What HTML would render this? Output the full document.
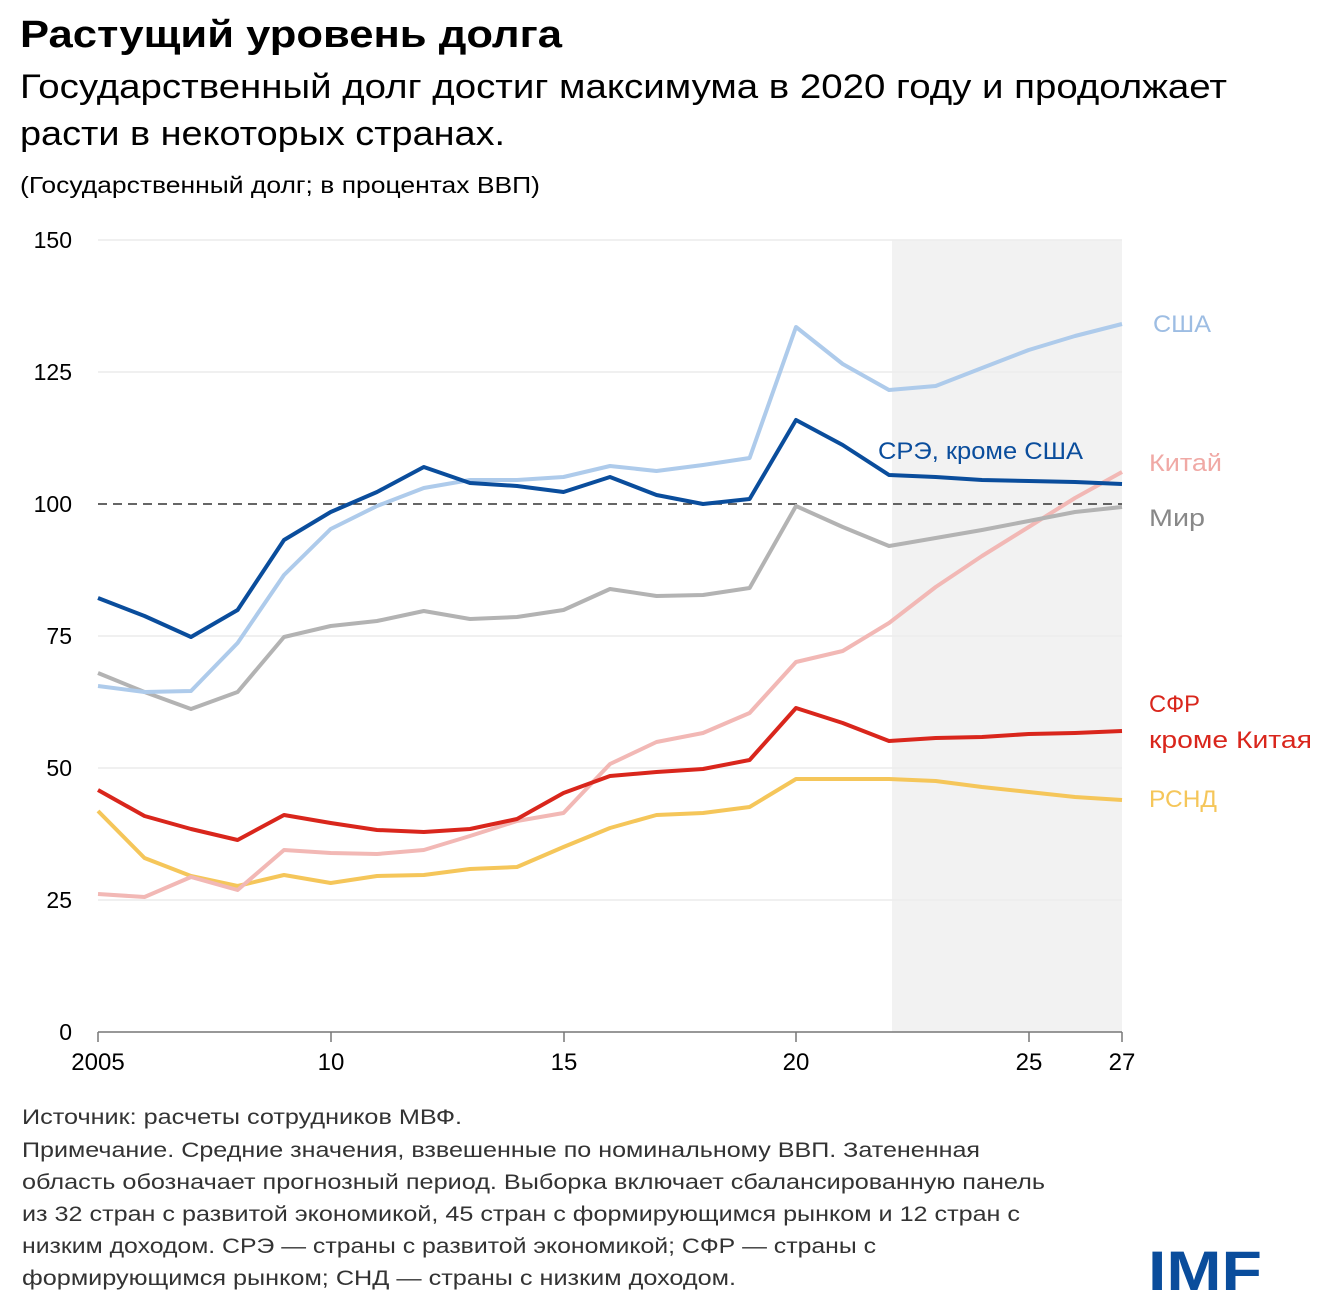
<!DOCTYPE html>
<html><head><meta charset="utf-8"><style>
body{margin:0;background:#fff;width:1320px;height:1309px;overflow:hidden;font-family:"Liberation Sans","DejaVu Sans",sans-serif}
</style></head><body>
<svg width="1320" height="1309" viewBox="0 0 1320 1309" xmlns="http://www.w3.org/2000/svg" font-family="Liberation Sans, DejaVu Sans, sans-serif">
<text x="20" y="47" font-size="38" font-weight="bold" fill="#000" textLength="542" lengthAdjust="spacingAndGlyphs">Растущий уровень долга</text>
<text x="20" y="98" font-size="34" fill="#000" textLength="1207" lengthAdjust="spacingAndGlyphs">Государственный долг достиг максимума в 2020 году и продолжает</text>
<text x="20" y="145" font-size="34" fill="#000" textLength="485" lengthAdjust="spacingAndGlyphs">расти в некоторых странах.</text>
<text x="20" y="193" font-size="23" fill="#000" textLength="520" lengthAdjust="spacingAndGlyphs">(Государственный долг; в процентах ВВП)</text>
<rect x="892" y="240" width="230" height="792" fill="#f2f2f2"/>
<g stroke="#ececec" stroke-width="1.5">
<line x1="98" y1="240" x2="1122" y2="240"/><line x1="98" y1="372" x2="1122" y2="372"/><line x1="98" y1="636" x2="1122" y2="636"/><line x1="98" y1="768" x2="1122" y2="768"/><line x1="98" y1="900" x2="1122" y2="900"/>
</g>
<line x1="98" y1="504" x2="1122" y2="504" stroke="#333" stroke-width="1.5" stroke-dasharray="9,6"/>
<g font-size="23" fill="#000" text-anchor="end">
<text x="72" y="248">150</text><text x="72" y="380">125</text><text x="72" y="512">100</text><text x="72" y="644">75</text><text x="72" y="776">50</text><text x="72" y="908">25</text><text x="72" y="1040">0</text>
</g>
<line x1="98" y1="1032" x2="1122" y2="1032" stroke="#777" stroke-width="1.5"/>
<g stroke="#777" stroke-width="1.5">
<line x1="98" y1="1032" x2="98" y2="1042"/><line x1="331" y1="1032" x2="331" y2="1042"/><line x1="564" y1="1032" x2="564" y2="1042"/><line x1="796" y1="1032" x2="796" y2="1042"/><line x1="1029" y1="1032" x2="1029" y2="1042"/><line x1="1122" y1="1032" x2="1122" y2="1042"/>
</g>
<g font-size="24" fill="#000" text-anchor="middle">
<text x="98" y="1070">2005</text><text x="331" y="1070">10</text><text x="564" y="1070">15</text><text x="796" y="1070">20</text><text x="1029" y="1070">25</text><text x="1122" y="1070">27</text>
</g>
<g fill="none" stroke-width="4" stroke-linejoin="round">
<polyline stroke="#f5c65a" points="98,811 144.5,858 191,876 237.6,886 284,875 330.7,883 377,876 423.8,875 470,869 517,867 563.5,847 610,828 656.5,815 703,813 749.6,807 796,779 842.7,779 889,779 935.7,781 982,787 1028.7,792 1075,797 1122,800"/>
<polyline stroke="#f2b8b5" points="98,894 144.5,897 191,877 237.6,890 284,850 330.7,853 377,854 423.8,850 470,836 517,821 563.5,813 610,764 656.5,742 703,733 749.6,713 796,662 842.7,651 889,623 935.7,587 982,556 1028.7,527 1075,498 1122,472"/>
<polyline stroke="#d9261c" points="98,790 144.5,816 191,829 237.6,840 284,815 330.7,823 377,830 423.8,832 470,829 517,819 563.5,793 610,776 656.5,772 703,769 749.6,760 796,708 842.7,723 889,741 935.7,738 982,737 1028.7,734 1075,733 1122,731"/>
<polyline stroke="#b3b3b3" points="98,673 144.5,692 191,709 237.6,692 284,637 330.7,626 377,621 423.8,611 470,619 517,617 563.5,610 610,589 656.5,596 703,595 749.6,588 796,506 842.7,527 889,546 935.7,538 982,530 1028.7,521 1075,512 1122,507"/>
<polyline stroke="#aecbeb" points="98,686 144.5,692 191,691 237.6,643 284,575 330.7,529 377,506 423.8,488 470,480 517,480 563.5,477 610,466 656.5,471 703,465 749.6,458 796,327 842.7,364 889,390 935.7,386 982,368 1028.7,350 1075,336 1122,324"/>
<polyline stroke="#0a4d9c" points="98,598 144.5,616 191,637 237.6,610 284,540 330.7,512 377,492 423.8,467 470,483 517,486 563.5,492 610,477 656.5,495 703,504 749.6,499 796,420 842.7,445 889,475 935.7,477 982,480 1028.7,481 1075,482 1122,484"/>
</g>
<g font-size="24">
<text x="1153" y="332" fill="#9dbde3" textLength="58" lengthAdjust="spacingAndGlyphs">США</text>
<text x="878" y="459" fill="#0a4d9c" textLength="205" lengthAdjust="spacingAndGlyphs">СРЭ, кроме США</text>
<text x="1149" y="471" fill="#f0a9a5" textLength="73" lengthAdjust="spacingAndGlyphs">Китай</text>
<text x="1149" y="526" fill="#888" textLength="56" lengthAdjust="spacingAndGlyphs">Мир</text>
<text x="1149" y="712" fill="#d9261c" textLength="51" lengthAdjust="spacingAndGlyphs">СФР</text>
<text x="1149" y="748" fill="#d9261c" textLength="163" lengthAdjust="spacingAndGlyphs">кроме  Китая</text>
<text x="1149" y="807" fill="#f5c65a" textLength="68" lengthAdjust="spacingAndGlyphs">РСНД</text>
</g>
<g font-size="21" fill="#333" lengthAdjust="spacingAndGlyphs">
<text x="22" y="1124" textLength="440" lengthAdjust="spacingAndGlyphs">Источник: расчеты сотрудников МВФ.</text>
<text x="22" y="1157" textLength="958" lengthAdjust="spacingAndGlyphs">Примечание. Средние значения, взвешенные по номинальному ВВП. Затененная</text>
<text x="22" y="1189" textLength="1023" lengthAdjust="spacingAndGlyphs">область обозначает прогнозный период. Выборка включает сбалансированную панель</text>
<text x="22" y="1221" textLength="998" lengthAdjust="spacingAndGlyphs">из 32 стран с развитой экономикой, 45 стран с формирующимся рынком и 12 стран с</text>
<text x="22" y="1253" textLength="854" lengthAdjust="spacingAndGlyphs">низким доходом. СРЭ — страны с развитой экономикой; СФР — страны с</text>
<text x="22" y="1285" textLength="714" lengthAdjust="spacingAndGlyphs">формирующимся рынком; СНД — страны с низким доходом.</text>
</g>
<text x="1148" y="1290" font-size="56" font-weight="bold" fill="#0a4d9c" textLength="114" lengthAdjust="spacingAndGlyphs">IMF</text>
</svg>
</body></html>
